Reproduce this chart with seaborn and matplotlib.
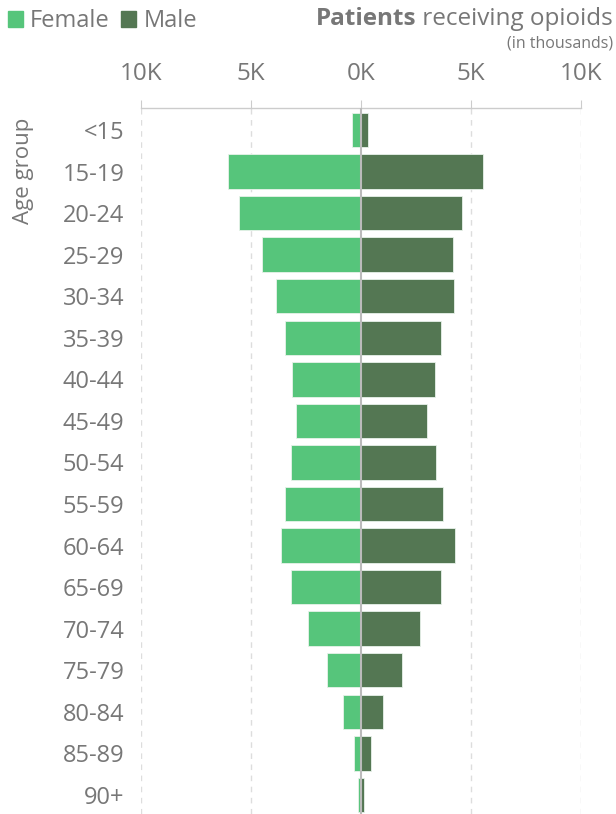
import pandas as pd
import numpy as np
import matplotlib.pyplot as plt
import seaborn as sns
from matplotlib.patches import Patch
from matplotlib.ticker import FuncFormatter

sns.set_theme(style="white")
plt.rcParams['font.family'] = ['Open Sans', 'DejaVu Sans']

# data (thousands of patients)
age_groups = ['<15', '15-19', '20-24', '25-29', '30-34', '35-39', '40-44', '45-49',
              '50-54', '55-59', '60-64', '65-69', '70-74', '75-79', '80-84', '85-89', '90+']
female = [0.39, 6.06, 5.56, 4.52, 3.88, 3.44, 3.12, 2.97, 3.20, 3.47, 3.65, 3.18,
          2.39, 1.56, 0.82, 0.34, 0.15]
male = [0.33, 5.56, 4.57, 4.18, 4.21, 3.65, 3.35, 3.01, 3.41, 3.71, 4.29, 3.64,
        2.68, 1.88, 0.98, 0.45, 0.14]

FEMALE_C = '#56C57B'
MALE_C = '#547753'
TEXT_C = '#777777'

df = pd.concat([
    pd.DataFrame({'age': age_groups, 'value': [-v for v in female], 'sex': 'Female'}),
    pd.DataFrame({'age': age_groups, 'value': male, 'sex': 'Male'}),
])

fig = plt.figure(figsize=(6.16, 8.14), dpi=100)
ax = fig.add_axes([141 / 616, 0.0, 440 / 616, 1 - 108 / 814])

sns.barplot(data=df, y='age', x='value', hue='sex', order=age_groups,
            hue_order=['Female', 'Male'], palette=[FEMALE_C, MALE_C],
            dodge=False, orient='h', width=0.83, saturation=1, ax=ax,
            edgecolor='#e8f2ea', linewidth=0.6, legend=False)

ax.set_xlim(-10, 10)
ax.set_ylim(16.46, -0.53)
ax.xaxis.tick_top()
ax.set_xticks([-10, -5, 0, 5, 10])
ax.xaxis.set_major_formatter(FuncFormatter(lambda v, p: f"{abs(v):.0f}K"))
ax.tick_params(axis='x', length=6, width=0.8, color='#cccccc', pad=10,
               labelsize=17.5, labelcolor=TEXT_C)
ax.tick_params(axis='y', length=0, pad=12, labelsize=17, labelcolor=TEXT_C)

for v in [-10, -5, 5, 10]:
    ax.axvline(v, color='#dddddd', linestyle=(0, (4, 4)), linewidth=1, zorder=0)
ax.axvline(0, color='#bbbbbb', linewidth=1.5, zorder=3)

for s in ['left', 'right', 'bottom']:
    ax.spines[s].set_visible(False)
ax.spines['top'].set_color('#cccccc')
ax.spines['top'].set_linewidth(1)

ax.set_xlabel('')
ax.set_ylabel('')
fig.text(23 / 616, 1 - 171 / 814, 'Age group', rotation=90, ha='center', va='center',
         fontsize=16, color=TEXT_C)

# legend
handles = [Patch(color=FEMALE_C, label='Female'), Patch(color=MALE_C, label='Male')]
fig.legend(handles=handles, loc='upper left', bbox_to_anchor=(-0.003, 1.0), ncol=2,
           frameon=False, fontsize=17, labelcolor=TEXT_C, handlelength=0.64,
           handleheight=0.64, handletextpad=0.3, columnspacing=0.5, borderaxespad=0)

# title
t2 = fig.text(613 / 616, 1 - 25 / 814, ' receiving opioids', ha='right', va='baseline',
              fontsize=17.5, color=TEXT_C)
fig.canvas.draw()
bb = t2.get_window_extent()
x0 = fig.transFigure.inverted().transform((bb.x0, bb.y0))[0]
fig.text(x0, 1 - 25 / 814, 'Patients', ha='right', va='baseline', fontsize=17.5,
         fontweight='bold', color=TEXT_C)
fig.text(613 / 616, 1 - 48 / 814, '(in thousands)', ha='right', va='baseline',
         fontsize=11.5, color=TEXT_C)

fig.savefig('out.png', dpi=100)
